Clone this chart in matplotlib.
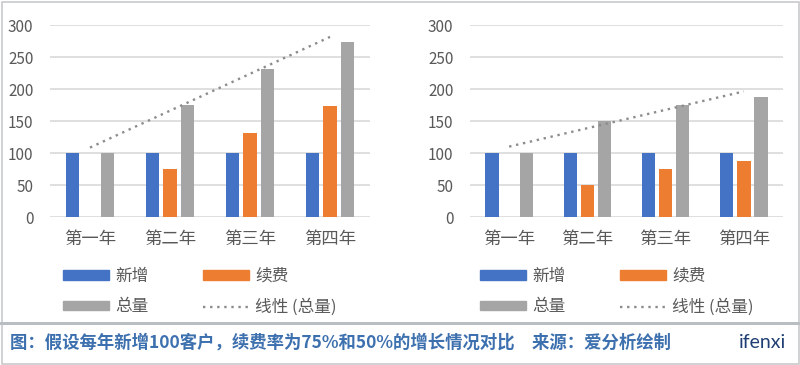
import numpy as np
import matplotlib
matplotlib.use("Agg")
import matplotlib.pyplot as plt
from matplotlib.patches import Rectangle, Patch
from matplotlib.lines import Line2D

plt.rcParams["font.family"] = ["Noto Sans CJK SC", "DejaVu Sans"]

CATEGORIES = ["第一年", "第二年", "第三年", "第四年"]
NEW_LEFT = [100, 100, 100, 100]
RENEW_LEFT = [0, 75, 131.25, 173.4]
TOTAL_LEFT = [100, 175, 231.25, 273.4]
NEW_RIGHT = [100, 100, 100, 100]
RENEW_RIGHT = [0, 50, 75, 87.5]
TOTAL_RIGHT = [100, 150, 175, 187.5]
YTICKS = [0, 50, 100, 150, 200, 250, 300]
CAPTION = "图：假设每年新增100客户，续费率为75%和50%的增长情况对比　来源：爱分析绘制"

BLUE = "#4472C4"
ORANGE = "#ED7D31"
GREY = "#A5A5A5"
TEXT = "#595959"
TREND = "#8C8C8C"

W, H = 800, 365
fig = plt.figure(figsize=(W / 100, H / 100), dpi=100)


def px_axes(x0, x1, ytop, ybot):
    return fig.add_axes([x0 / W, (H - ybot) / H, (x1 - x0) / W, (ybot - ytop) / H])


def draw_panel(ax, new, renew, total):
    x = np.arange(len(CATEGORIES))
    bw, off = 0.17, 0.22
    ax.bar(x - off, new, bw, color=BLUE, label="新增", zorder=3)
    ax.bar(x, renew, bw, color=ORANGE, label="续费", zorder=3)
    ax.bar(x + off, total, bw, color=GREY, label="总量", zorder=3)
    # linear trendline of the totals, like Excel's
    k, b = np.polyfit(x, total, 1)
    ax.plot(x[[0, -1]], k * x[[0, -1]] + b, color=TREND, lw=1.7,
            linestyle=(0, (1, 2)), zorder=4)
    ax.set_xlim(-0.5, 3.5)
    ax.set_ylim(0, 300)
    ax.set_yticks(YTICKS)
    ax.set_xticks(x)
    ax.set_xticklabels(CATEGORIES, fontsize=12.5, color=TEXT)
    ax.tick_params(axis="y", labelsize=11, labelcolor=TEXT, length=0, pad=12)
    ax.tick_params(axis="x", length=0, pad=9)
    ax.grid(axis="y", color="#D9D9D9", lw=1.2, zorder=0)
    for s in ax.spines.values():
        s.set_visible(False)
    ax.set_facecolor("none")


axL = px_axes(50, 370, 25, 217)
draw_panel(axL, NEW_LEFT, RENEW_LEFT, TOTAL_LEFT)
axR = px_axes(470, 783, 25, 217)
draw_panel(axR, NEW_RIGHT, RENEW_RIGHT, TOTAL_RIGHT)

handles = [Patch(color=BLUE), Patch(color=GREY), Patch(color=ORANGE),
           Line2D([], [], color=TREND, lw=1.7, linestyle=(0, (1, 2)))]
labels = ["新增", "总量", "续费", "线性 (总量)"]
for x0 in (63, 480):
    fig.legend(handles, labels,
               ncol=2, loc="upper left", bbox_to_anchor=(x0 / W, (H - 268) / H),
               frameon=False, fontsize=12, labelcolor=TEXT,
               handlelength=2.75, handleheight=0.5, handletextpad=0.36,
               columnspacing=3.3, labelspacing=0.8, borderpad=0, borderaxespad=0)

# frame, separator and caption
fig.patches.append(Rectangle((1.5 / W, 1.5 / H), (W - 3) / W, (H - 3) / H,
                             transform=fig.transFigure, fill=False,
                             edgecolor="#C8CACC", lw=1.2))
fig.patches.append(Rectangle((0, (H - 325) / H), 1, 3.5 / H,
                             transform=fig.transFigure, color="#B9BEC3", lw=0))
fig.text(10 / W, (H - 343) / H, CAPTION, fontsize=12.5, color="#3D70AE",
         fontweight="bold", va="center", ha="left")
fig.text(786 / W, (H - 343) / H, "ifenxi", fontsize=14, color="#1F3E73",
         va="center", ha="right", family=["Lato", "DejaVu Sans"])

fig.savefig("out.png", dpi=100)
